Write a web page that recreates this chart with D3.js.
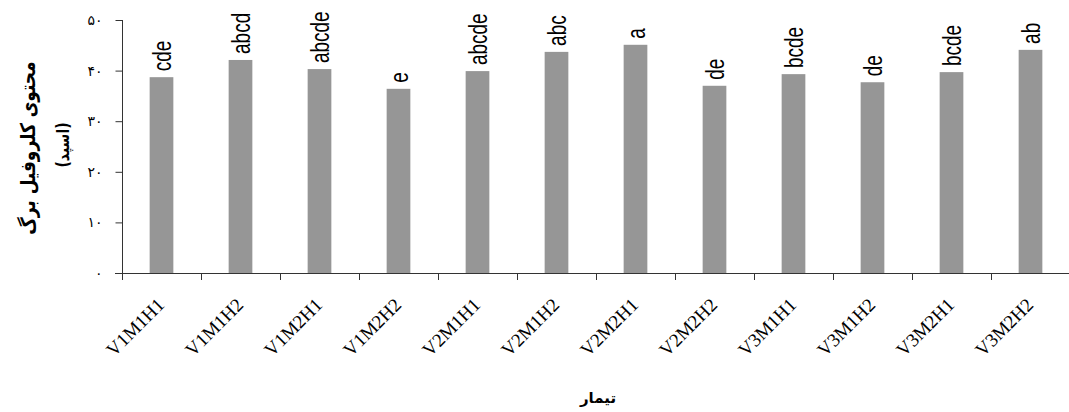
<!DOCTYPE html>
<html>
<head>
<meta charset="utf-8">
<script src="https://cdn.jsdelivr.net/npm/d3@7"></script>
<style>
  body { margin: 0; background: #fff; }
  svg { display: block; }
</style>
</head>
<body>
<div id="container"></div>
<script>
var width = 1069;
var height = 412;

// treatments, mean chlorophyll (SPAD) and letter groups
var treatments = ["V1M1H1", "V1M1H2", "V1M2H1", "V1M2H2", "V2M1H1", "V2M1H2",
                  "V2M2H1", "V2M2H2", "V3M1H1", "V3M1H2", "V3M2H1", "V3M2H2"];
var spad = [38.7, 42.1, 40.3, 36.4, 39.9, 43.7, 45.1, 37.0, 39.3, 37.7, 39.7, 44.1];
var groups = ["cde", "abcd", "abcde", "e", "abcde", "abc", "a", "de", "bcde", "de", "bcde", "ab"];
var yTicks = [0, 10, 20, 30, 40, 50];

var yTitle = "محتوی کلروفیل برگ";
var yUnit = "(اسپد)";
var xTitle = "تیمار";

var faDigits = "۰۱۲۳۴۵۶۷۸۹";
function toFa(n) {
  return String(n).replace(/[0-9]/g, (c) => faDigits[+c]);
}

const SVG = d3.select("#container")
              .append("svg")
              .attr("width", width)
              .attr("height", height);

const x = d3.scaleBand()
            .domain(treatments)
            .range([122, 1070])
            .paddingInner(0.7)
            .paddingOuter(0.35);

const y = d3.scaleLinear()
            .domain([0, 50])
            .range([273, 20]);

var gap = (x.step() - x.bandwidth()) / 2;
var mid = (d) => x(d) + x.bandwidth() / 2;

// bars
SVG.selectAll("rect.bar")
   .data(treatments)
   .enter()
   .append("rect")
   .attr("class", "bar")
   .attr("x", (d) => x(d))
   .attr("y", (d, i) => y(spad[i]))
   .attr("width", x.bandwidth())
   .attr("height", (d, i) => y(0) - y(spad[i]))
   .attr("fill", "#969696");

// letter groups above bars (source text is a bit wider than it is tall)
SVG.selectAll("text.grp")
   .data(treatments)
   .enter()
   .append("text")
   .attr("class", "grp")
   .attr("transform", (d, i) => "translate(" + mid(d).toFixed(1) + "," + (y(spad[i]) - 6).toFixed(1) + ") scale(1.4,1) rotate(-90)")
   .attr("dy", "0.35em")
   .style("font-family", "'Liberation Sans', Arial, sans-serif")
   .style("font-size", "19px")
   .attr("fill", "#000")
   .text((d, i) => groups[i]);

// y axis
const yAxis = SVG.append("g")
                 .attr("transform", "translate(122.5,0)")
                 .call(d3.axisLeft(y).tickValues(yTicks).tickSize(7).tickPadding(13).tickFormat(toFa));
yAxis.select(".domain").attr("stroke", "#333").attr("d", "M0," + y(50) + "V" + y(0));
yAxis.selectAll(".tick line").attr("stroke", "#333");
yAxis.selectAll(".tick text")
     .style("font-family", "'DejaVu Sans', sans-serif")
     .style("font-size", "14px")
     .attr("fill", "#000");

// x axis line and category separators
var edges = treatments.map((d) => x(d) - gap).concat([x(treatments[11]) + x.bandwidth() + gap]);
SVG.append("line")
   .attr("x1", 115).attr("x2", 1070)
   .attr("y1", y(0) + 0.5).attr("y2", y(0) + 0.5)
   .attr("stroke", "#333");
SVG.selectAll("line.sep")
   .data(edges)
   .enter()
   .append("line")
   .attr("class", "sep")
   .attr("x1", (d) => Math.round(d) + 0.5).attr("x2", (d) => Math.round(d) + 0.5)
   .attr("y1", y(0)).attr("y2", y(0) + 7)
   .attr("stroke", "#333");

// x tick labels
SVG.selectAll("text.cat")
   .data(treatments)
   .enter()
   .append("text")
   .attr("class", "cat")
   .attr("transform", (d) => "translate(" + (mid(d) + 4).toFixed(1) + ",306) rotate(-45)")
   .attr("text-anchor", "end")
   .style("font-family", "'Liberation Serif', 'Times New Roman', serif")
   .style("font-size", "19px")
   .attr("fill", "#000")
   .text((d) => d);

// axis titles
SVG.append("text")
   .attr("transform", "translate(28,148) scale(1.2,1) rotate(-90)")
   .attr("text-anchor", "middle")
   .attr("dy", "0.35em")
   .style("font-family", "'DejaVu Sans', sans-serif")
   .style("font-size", "17px")
   .style("font-weight", "bold")
   .attr("fill", "#000")
   .text(yTitle);

SVG.append("text")
   .attr("transform", "translate(63,145) scale(1.2,1) rotate(-90)")
   .attr("text-anchor", "middle")
   .attr("dy", "0.35em")
   .style("font-family", "'DejaVu Sans', sans-serif")
   .style("font-size", "14px")
   .style("font-weight", "bold")
   .attr("fill", "#000")
   .text(yUnit);

SVG.append("text")
   .attr("x", 598)
   .attr("y", 403)
   .attr("text-anchor", "middle")
   .style("font-family", "'DejaVu Sans', sans-serif")
   .style("font-size", "15px")
   .style("font-weight", "bold")
   .attr("fill", "#000")
   .text(xTitle);
</script>
</body>
</html>
